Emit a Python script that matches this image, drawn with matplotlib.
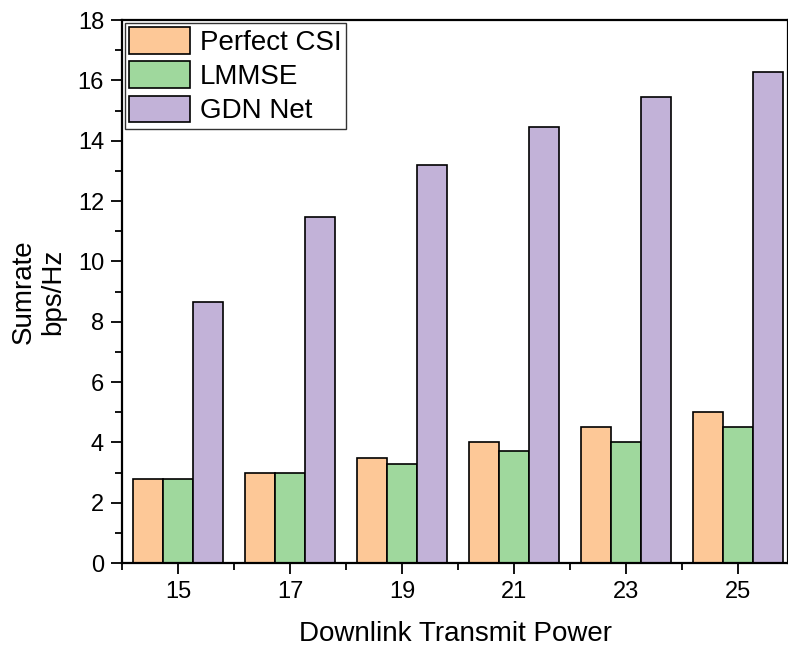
import numpy as np
import matplotlib
matplotlib.use('Agg')
import matplotlib.pyplot as plt
from matplotlib.ticker import MultipleLocator

plt.rcParams['font.family'] = ['Liberation Sans', 'DejaVu Sans']

# data
power = [15, 17, 19, 21, 23, 25]
perfect_csi = [2.8, 3.0, 3.5, 4.0, 4.5, 5.0]
lmmse = [2.8, 3.0, 3.3, 3.7, 4.0, 4.5]
gdn_net = [8.65, 11.47, 13.2, 14.47, 15.45, 16.27]

series = [("Perfect CSI", perfect_csi, "#fdc897"),
          ("LMMSE", lmmse, "#9fd89d"),
          ("GDN Net", gdn_net, "#c2b2d8")]

fig = plt.figure(figsize=(7.88, 6.48), dpi=100)
ax = fig.add_axes([0.155, 0.131, 0.845, 0.838])

w = 0.536
x = np.array(power, dtype=float)
for i, (name, vals, col) in enumerate(series):
    ax.bar(x + (i - 1) * w, vals, width=w, color=col, edgecolor='black',
           linewidth=1.2, label=name)

ax.set_xlim(14, 25.9)
ax.set_ylim(0, 18)
ax.set_xticks(power)
ax.set_xticks([14, 16, 18, 20, 22, 24], minor=True)
ax.yaxis.set_major_locator(MultipleLocator(2))
ax.yaxis.set_minor_locator(MultipleLocator(1))

ax.tick_params(axis='both', which='major', direction='out', length=8, width=1.3,
               labelsize=17, pad=5)
ax.tick_params(axis='both', which='minor', direction='out', length=5, width=1.3)
ax.tick_params(top=False, right=False, which='both')

for s in ax.spines.values():
    s.set_linewidth(1.6)

ax.set_xlabel("Downlink Transmit Power", fontsize=20, labelpad=13)
ax.set_ylabel("Sumrate\nbps/Hz", fontsize=20, labelpad=8)

leg = ax.legend(loc='upper left', fontsize=20, frameon=True, fancybox=False,
                edgecolor='black', handlelength=2.2, handleheight=1.1,
                borderaxespad=0.1, borderpad=0.15, labelspacing=0.2,
                handletextpad=0.35)
leg.get_frame().set_linewidth(1.0)

fig.savefig('out.png', dpi=100)
